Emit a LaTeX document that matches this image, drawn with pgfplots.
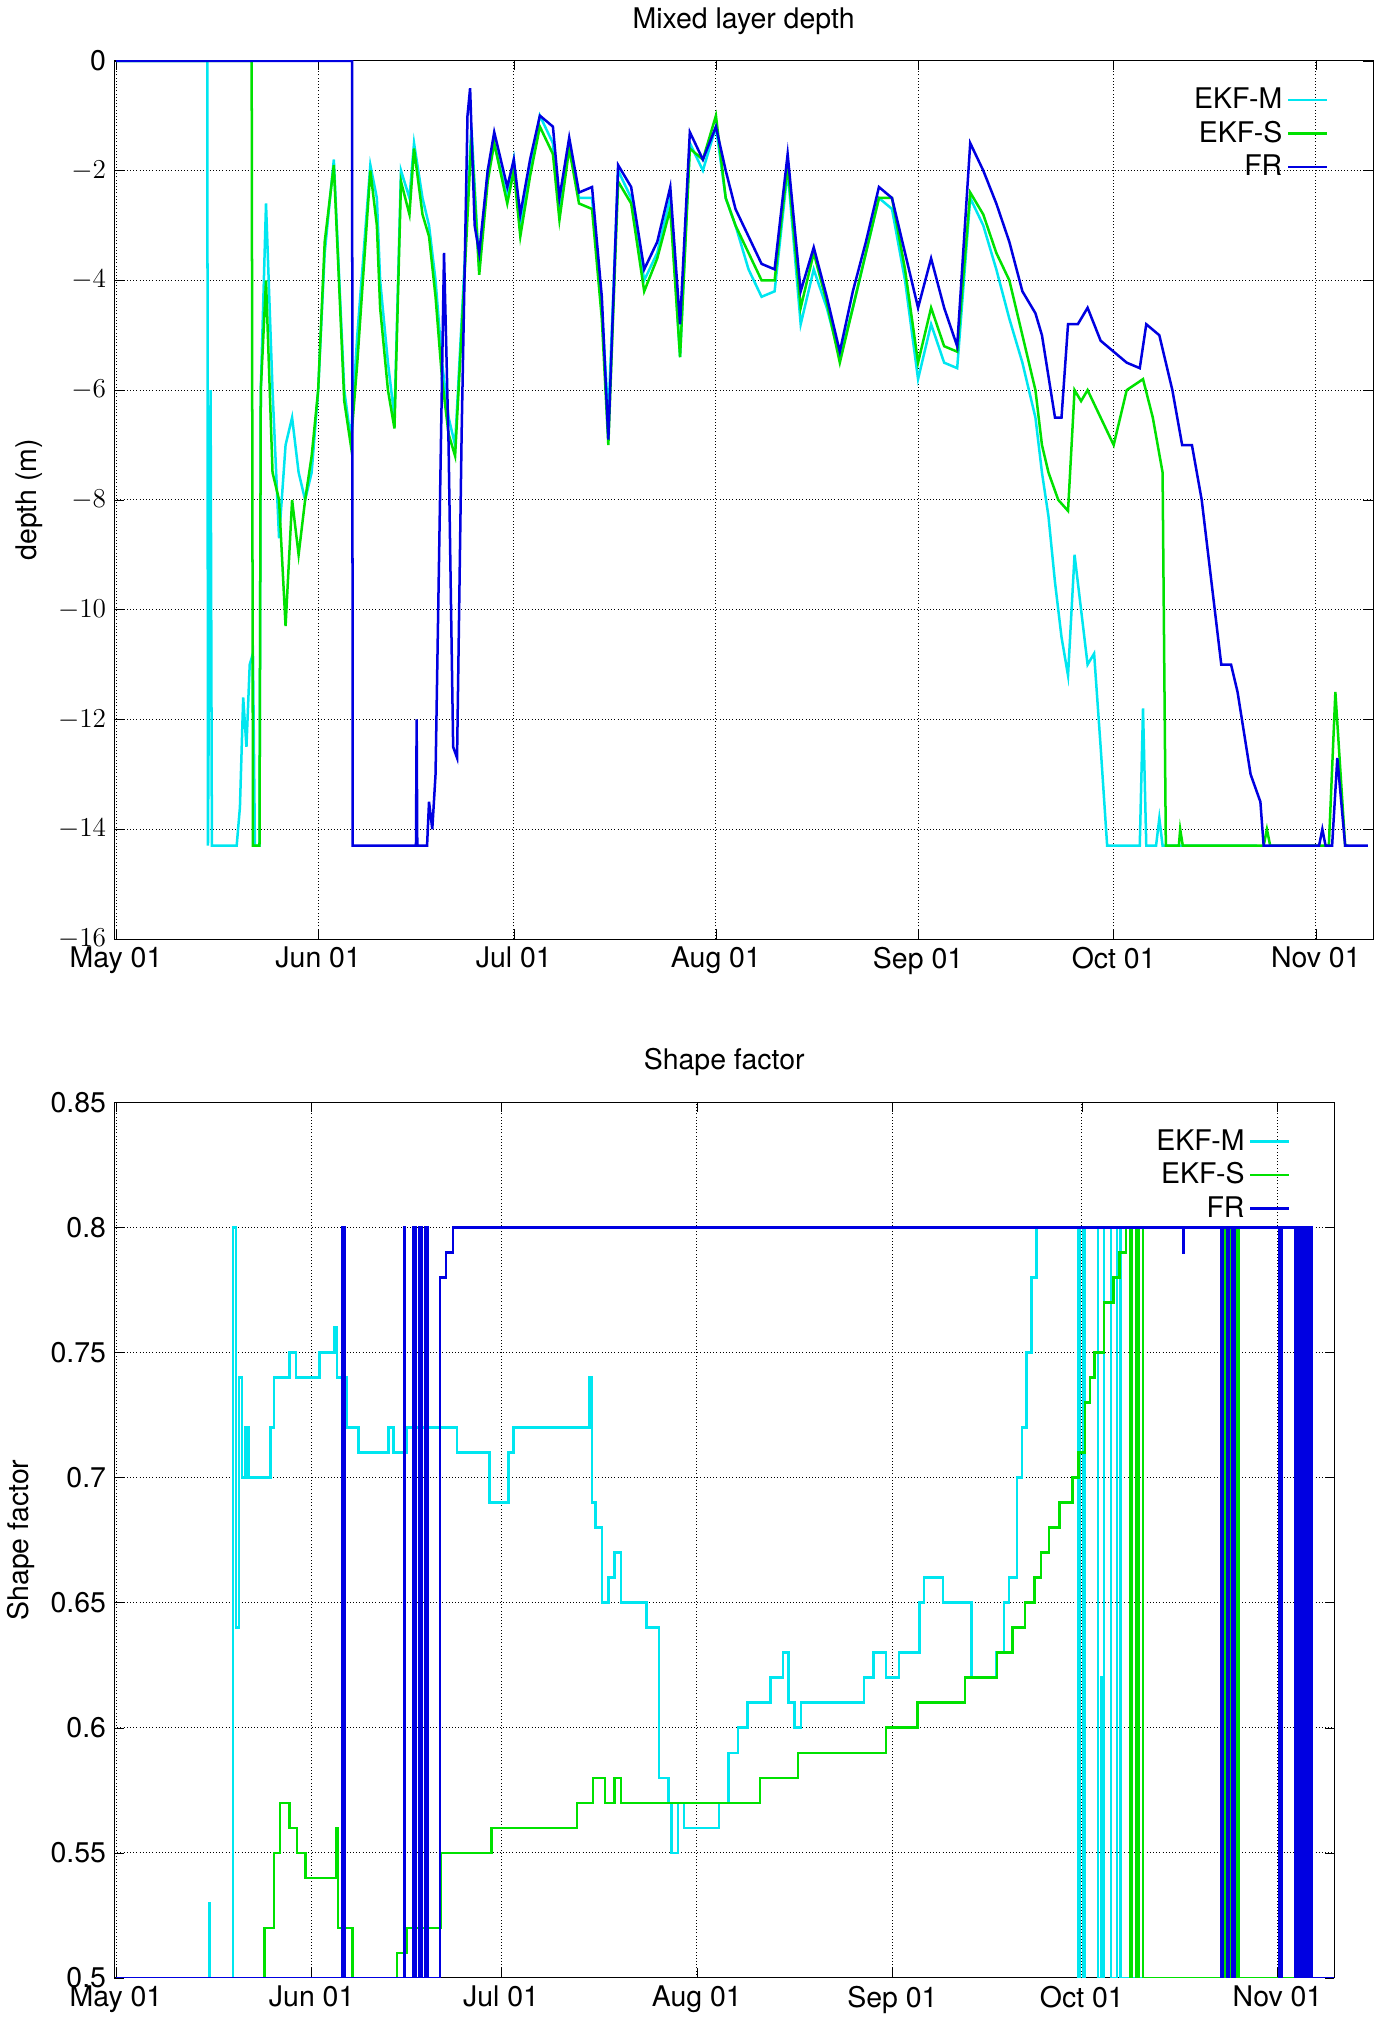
\documentclass[border=0pt]{standalone}
\usepackage{pgfplots}
\pgfplotsset{compat=1.18}
\usepackage{fontspec}
\setmainfont{TeX Gyre Heros}
\definecolor{cM}{RGB}{0,230,240}
\definecolor{cS}{RGB}{0,225,0}
\definecolor{cF}{RGB}{0,0,225}
\begin{document}
\begin{tikzpicture}[font=\fontsize{12.5}{15}\selectfont]
\pgfplotsset{every axis/.style={scale only axis, xmin=-0.3, xmax=192.8,
  xtick={0,31,61,92,123,153,184},
  xticklabels={May 01,Jun 01,Jul 01,Aug 01,Sep 01,Oct 01,Nov 01},
  grid=major, grid style={black, densely dotted, thin},
  tick style={black}, axis line style={black},
  /pgf/number format/assume math mode=true,
  legend style={draw=none, fill=none, at={(0.97,0.98)}, anchor=north east, legend cell align=right},
  legend plot pos=right, legend image post style={sharp plot},
  every axis plot/.append style={line width=1.1pt}}}
\begin{axis}[name=top, width=19.44cm, height=13.56cm, ymin=-16, ymax=0, ytick={-16,-14,...,0},
  yticklabels={$-16$,$-14$,$-12$,$-10$,$-8$,$-6$,$-4$,$-2$,0},
  ylabel={depth (m)}, title={Mixed layer depth}, title style={yshift=2pt}]
\addplot[cM] coordinates {(0,0)(14,0)(14.1,-14.3)(14.5,-6)(14.7,-14.3)(18.5,-14.3)(19,-13.6)(19.5,-11.6)(20,-12.5)(20.5,-11)(21,-10.8)(21.3,-14.3)(22,-14.3)(22.2,-6)(23,-2.6)(24,-6)(25,-8.7)(26,-7)(27,-6.5)(28,-7.5)(29,-8)(30,-7.5)(31,-6)(32,-3.5)(33.4,-1.8)(35,-6)(36,-6.9)(37,-5)(39,-1.9)(40,-2.5)(40.5,-4)(41.7,-5.5)(42.7,-6.5)(43.7,-2)(45,-2.5)(45.7,-1.5)(47,-2.5)(48,-3)(49,-4)(50,-5.5)(51,-6.5)(52,-7)(53.5,-3.6)(54.5,-1.2)(55.7,-3.8)(57,-2)(58,-1.5)(60,-2.5)(61,-1.8)(62,-3)(63.5,-2)(65,-1)(67,-1.5)(68,-2.8)(69.5,-1.5)(71,-2.5)(73,-2.5)(74.5,-4.5)(75.5,-6.5)(77,-2)(79,-2.5)(81,-4)(83,-3.5)(85,-2.5)(86.5,-5.4)(88,-1.5)(90,-2)(92,-1.2)(93.5,-2.5)(95,-3)(97,-3.8)(99,-4.3)(101,-4.2)(103,-2)(105,-4.8)(107,-3.8)(109,-4.5)(111,-5.4)(113,-4.5)(115,-3.5)(117,-2.5)(119,-2.7)(121,-4)(123,-5.8)(125,-4.8)(127,-5.5)(129,-5.6)(131,-2.5)(133,-3)(135,-3.8)(137,-4.7)(139,-5.5)(141,-6.5)(142,-7.5)(143,-8.3)(144,-9.5)(145,-10.5)(146,-11.2)(147,-9)(148,-10)(149,-11)(150,-10.8)(151,-12.5)(152,-14.3)(157,-14.3)(157.5,-11.8)(158,-14.3)(159.5,-14.3)(160,-13.8)(160.5,-14.3)(175,-14.3)}; \addlegendentry{EKF-M}
\addplot[cS] coordinates {(0,0)(20.8,0)(21,-14.3)(22,-14.3)(22.2,-6)(23,-4)(24,-7.5)(25,-8)(26,-10.3)(27,-8)(28,-9)(29,-8)(30,-7.2)(31,-6)(32,-3.3)(33.4,-1.9)(35,-6.2)(36,-7)(37,-5.5)(39,-2)(40,-3)(40.5,-4.5)(41.7,-6)(42.7,-6.7)(43.7,-2.2)(45,-2.8)(45.7,-1.6)(47,-2.8)(48,-3.2)(49,-4.3)(50,-5.8)(51,-6.8)(52,-7.2)(53.5,-3.8)(54.5,-1.4)(55.7,-3.9)(57,-2.2)(58,-1.5)(60,-2.6)(61,-2)(62,-3.2)(63.5,-2.1)(65,-1.2)(67,-1.7)(68,-2.9)(69.5,-1.6)(71,-2.6)(73,-2.7)(74.5,-4.7)(75.5,-7)(77,-2.2)(79,-2.6)(81,-4.2)(83,-3.6)(85,-2.7)(86.5,-5.4)(88,-1.6)(90,-1.8)(92,-1)(93.5,-2.5)(95,-3)(97,-3.5)(99,-4)(101,-4)(103,-1.9)(105,-4.5)(107,-3.5)(109,-4.4)(111,-5.5)(113,-4.5)(115,-3.5)(117,-2.5)(119,-2.5)(121,-3.8)(123,-5.5)(125,-4.5)(127,-5.2)(129,-5.3)(131,-2.4)(133,-2.8)(135,-3.5)(137,-4)(139,-5)(141,-6)(142,-7)(143,-7.5)(144.5,-8)(146,-8.2)(147,-6)(148,-6.2)(149,-6)(151,-6.5)(153,-7)(155,-6)(157.5,-5.8)(159,-6.5)(160.5,-7.5)(161,-14.3)(163,-14.3)(163.2,-14)(163.6,-14.3)(176,-14.3)(176.5,-14)(177,-14.3)(186,-14.3)(187,-11.5)(188.5,-14.3)(189,-14.3)}; \addlegendentry{EKF-S}
\addplot[cF] coordinates {(0,0)(36.2,0)(36.3,-14.3)(46,-14.3)(46.1,-12)(46.2,-14.3)(47.7,-14.3)(48,-13.5)(48.5,-14)(49,-13)(50.3,-3.5)(51,-7)(51.7,-12.5)(52.3,-12.7)(53,-6.8)(53.9,-1)(54.3,-0.5)(55,-3)(55.7,-3.5)(57,-2)(58,-1.3)(60,-2.3)(61,-1.8)(62,-2.8)(63.5,-1.8)(65,-1)(67,-1.2)(68,-2.5)(69.5,-1.4)(71,-2.4)(73,-2.3)(74.5,-4.3)(75.5,-6.9)(77,-1.9)(79,-2.3)(81,-3.8)(83,-3.3)(85,-2.3)(86.5,-4.8)(88,-1.3)(90,-1.8)(92,-1.2)(93.5,-2)(95,-2.7)(97,-3.2)(99,-3.7)(101,-3.8)(103,-1.7)(105,-4.2)(107,-3.4)(109,-4.3)(111,-5.3)(113,-4.2)(115,-3.3)(117,-2.3)(119,-2.5)(121,-3.5)(123,-4.5)(125,-3.6)(127,-4.5)(129,-5.2)(131,-1.5)(133,-2)(135,-2.6)(137,-3.3)(139,-4.2)(141,-4.6)(142,-5)(144,-6.5)(145,-6.5)(146,-4.8)(147.5,-4.8)(149,-4.5)(151,-5.1)(153,-5.3)(155,-5.5)(157,-5.6)(158,-4.8)(160,-5)(162,-6)(163.5,-7)(165,-7)(166.5,-8)(168,-9.5)(169.5,-11)(171,-11)(172,-11.5)(174,-13)(175.5,-13.5)(176,-14.3)(184.5,-14.3)(185,-14)(185.5,-14.3)(186.5,-14.3)(187.3,-12.7)(188.5,-14.3)(192,-14.3)}; \addlegendentry{FR}
\node[anchor=west] at (rel axis cs:-0.1,0.99) {a)};
\end{axis}
\begin{axis}[at={(0,-16.04cm)}, width=18.84cm, height=13.52cm, xmax=193, ymin=0.5, ymax=0.85,
  ytick={0.5,0.55,...,0.85}, yticklabels={0.5,0.55,0.6,0.65,0.7,0.75,0.8,0.85},
  ylabel={Shape factor}, title={Shape factor}, title style={yshift=2pt}]
\addplot[cM, const plot] coordinates {(0,0.5)(14.7,0.5)(14.8,0.53)(14.9,0.5)(18,0.5)(18.5,0.8)(19,0.64)(19.5,0.74)(20,0.7)(20.5,0.72)(21,0.7)(24,0.7)(24.5,0.72)(25,0.74)(27.3,0.74)(27.5,0.75)(28.5,0.74)(32,0.74)(32.2,0.75)(34.5,0.75)(34.6,0.76)(35,0.74)(36.5,0.72)(38.4,0.71)(43,0.71)(43.2,0.72)(44,0.71)(46,0.72)(53,0.72)(54,0.71)(59,0.71)(59.2,0.69)(62,0.69)(62.2,0.71)(63,0.72)(73,0.72)(75,0.74)(75.4,0.69)(76,0.68)(77,0.65)(78,0.66)(79,0.67)(80,0.65)(82,0.65)(84,0.64)(86,0.58)(87.5,0.57)(88,0.55)(89,0.57)(90,0.56)(95.5,0.57)(97,0.59)(98.5,0.6)(100,0.61)(103.7,0.62)(105.7,0.63)(106.5,0.61)(107.5,0.6)(108.5,0.61)(118,0.61)(118.5,0.62)(120,0.63)(122,0.62)(124,0.63)(127.3,0.65)(128,0.66)(131,0.65)(133,0.65)(135.5,0.62)(139.5,0.63)(140.7,0.65)(141.5,0.66)(142.7,0.7)(143.5,0.72)(144.2,0.75)(145,0.78)(145.8,0.8)(152.4,0.8)(152.5,0.5)(152.7,0.8)(153,0.8)(153.2,0.5)(153.4,0.8)(155.5,0.8)(155.6,0.5)(156,0.62)(156.2,0.5)(156.5,0.8)(157.5,0.8)(157.6,0.5)(158.5,0.5)(158.6,0.8)(159,0.8)(159.1,0.5)(193,0.5)}; \addlegendentry{EKF-M}
\addplot[cS, const plot] coordinates {(0,0.5)(23,0.5)(23.5,0.52)(25,0.55)(26,0.57)(27.5,0.56)(28.7,0.55)(30,0.54)(34,0.54)(34.9,0.56)(35.2,0.52)(37.5,0.5)(43.5,0.5)(44.5,0.51)(46,0.52)(49,0.52)(51.5,0.55)(59.5,0.56)(73,0.57)(75.6,0.58)(77.5,0.57)(79,0.58)(80,0.57)(101,0.57)(102,0.58)(108,0.59)(121,0.59)(122,0.6)(127,0.61)(134.5,0.62)(139.6,0.63)(140.5,0.63)(142,0.64)(144,0.65)(145.5,0.66)(146.5,0.67)(147.8,0.68)(149.5,0.69)(151.5,0.7)(152.5,0.71)(153.5,0.73)(154.3,0.74)(155,0.75)(156.5,0.77)(158,0.78)(159,0.79)(160,0.8)(160.5,0.8)(160.6,0.5)(160.9,0.8)(161.6,0.8)(161.7,0.5)(162,0.8)(162.6,0.8)(162.7,0.5)(175,0.5)(175.1,0.8)(175.4,0.5)(175.7,0.8)(176.2,0.5)(176.6,0.8)(177.2,0.5)(177.6,0.8)(177.8,0.5)(193,0.5)}; \addlegendentry{EKF-S}
\addplot[cF, const plot] coordinates {(0,0.5)(35.8,0.5)(35.9,0.8)(36.2,0.8)(36.3,0.5)(45.5,0.5)(45.6,0.8)(45.8,0.5)(47,0.5)(47.1,0.8)(47.5,0.5)(48,0.8)(48.4,0.5)(49,0.8)(49.4,0.5)(50.5,0.5)(51.3,0.78)(52,0.78)(52.3,0.79)(53.4,0.8)(169,0.8)(169.1,0.79)(169.2,0.8)(175,0.8)(175.1,0.5)(175.4,0.8)(176,0.5)(176.3,0.8)(176.9,0.5)(177.3,0.8)(184,0.8)(184.2,0.5)(184.6,0.8)(186.7,0.8)(186.8,0.5)(187.1,0.8)(187.5,0.5)(187.8,0.8)(188.1,0.5)(188.4,0.8)(188.8,0.5)(189.1,0.8)(189.5,0.5)(193,0.5)}; \addlegendentry{FR}
\node[anchor=west] at (rel axis cs:-0.103,0.99) {b)};
\end{axis}
\end{tikzpicture}
\end{document}
